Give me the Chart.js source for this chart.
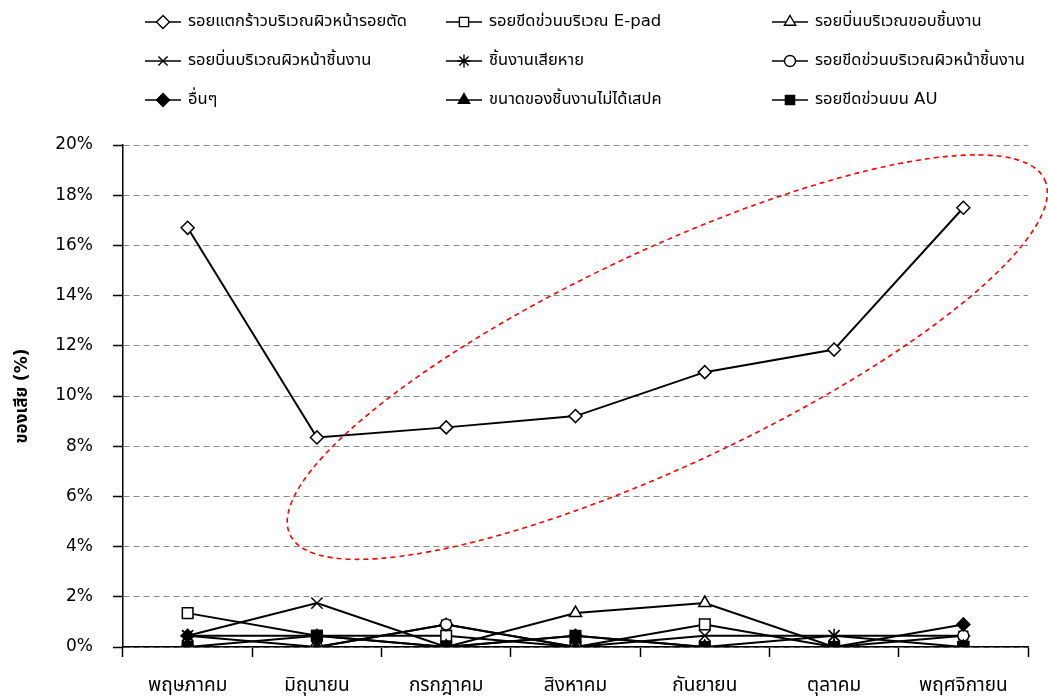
<!DOCTYPE html>
<html>
<head>
<meta charset="utf-8">
<script src="https://cdn.jsdelivr.net/npm/chart.js@4.4.0/dist/chart.umd.min.js"></script>
<style>
  html, body { margin: 0; padding: 0; background: #ffffff; }
  #wrap { width: 1048px; height: 698px; position: relative; }
</style>
</head>
<body>
<div id="wrap"><canvas id="chart"></canvas></div>
<script>
// Months on the x axis
const months = ['พฤษภาคม', 'มิถุนายน', 'กรกฎาคม', 'สิงหาคม', 'กันยายน', 'ตุลาคม', 'พฤศจิกายน'];

// Defect names (legend order, row by row)
const defectNames = [
  'รอยแตกร้าวบริเวณผิวหน้ารอยตัด',
  'รอยขีดข่วนบริเวณ E-pad',
  'รอยบิ่นบริเวณขอบชิ้นงาน',
  'รอยบิ่นบริเวณผิวหน้าชิ้นงาน',
  'ชิ้นงานเสียหาย',
  'รอยขีดข่วนบริเวณผิวหน้าชิ้นงาน',
  'อื่นๆ',
  'ขนาดของชิ้นงานไม่ได้เสปค',
  'รอยขีดข่วนบน AU'
];

// Defect rate per month (%)
const crackCutFace   = [16.7, 8.35, 8.75, 9.2, 10.95, 11.85, 17.5];
const scratchEpad    = [1.35, 0.45, 0.45, 0, 0.9, 0, 0];
const chipEdge       = [0, 0, 0, 1.35, 1.75, 0, 0];
const chipSurface    = [0.45, 1.75, 0, 0, 0.45, 0.45, 0];
const damagedPart    = [0.45, 0, 0.9, 0, 0, 0.45, 0.45];
const scratchSurface = [0, 0, 0.9, 0, 0, 0, 0.45];
const otherDefects   = [0.45, 0.45, 0, 0.45, 0, 0, 0.9];
const outOfSpec      = [0, 0, 0, 0, 0, 0, 0];
const scratchAU      = [0, 0.45, 0, 0.45, 0, 0, 0];

// Y axis range and step (%)
const yMin = 0, yMax = 20, yStep = 2;
const yTitle = 'ของเสีย (%)';

const FONT = '"DejaVu Sans", Tahoma, "Noto Sans Thai", "Noto Sans", sans-serif';

const seriesValues = [crackCutFace, scratchEpad, chipEdge, chipSurface, damagedPart,
                      scratchSurface, otherDefects, outOfSpec, scratchAU];
const markerStyles = [
  { style: 'rectRot',  fill: '#ffffff', r: 6.5 },
  { style: 'rect',     fill: '#ffffff', r: 7.5 },
  { style: 'triangle', fill: '#ffffff', r: 7 },
  { style: 'crossRot', fill: '#000000', r: 8 },
  { style: 'star',     fill: '#000000', r: 7 },
  { style: 'circle',   fill: '#ffffff', r: 5.5 },
  { style: 'rectRot',  fill: '#000000', r: 6.5 },
  { style: 'triangle', fill: '#000000', r: 7 },
  { style: 'rect',     fill: '#000000', r: 7.5 }
];

const datasets = seriesValues.map((vals, i) => ({
  label: defectNames[i],
  data: vals,
  borderColor: '#000000',
  borderWidth: 2,
  pointStyle: markerStyles[i].style,
  pointRadius: markerStyles[i].r,
  pointBackgroundColor: markerStyles[i].fill,
  pointBorderColor: '#000000',
  pointBorderWidth: 1.5,
  tension: 0,
  order: 10 - i   // later series are painted on top
}));

// Three-column legend above the plot
const gridLegend = {
  id: 'gridLegend',
  afterDraw(chart) {
    const ctx = chart.ctx;
    const cols = [145, 446, 772];
    const rows = [22, 61, 100];
    chart.data.datasets.forEach((ds, i) => {
      const x = cols[i % 3];
      const y = rows[Math.floor(i / 3)];
      ctx.save();
      ctx.strokeStyle = '#000';
      ctx.lineWidth = 1.6;
      ctx.beginPath();
      ctx.moveTo(x, y);
      ctx.lineTo(x + 36, y);
      ctx.stroke();
      ctx.fillStyle = ds.pointBackgroundColor;
      ctx.strokeStyle = '#000';
      ctx.lineWidth = 1.4;
      Chart.helpers.drawPoint(ctx, {
        pointStyle: ds.pointStyle,
        radius: Math.min(ds.pointRadius, 6.5),
        borderWidth: 1.4,
        rotation: 0
      }, x + 18, y);
      ctx.fillStyle = '#000';
      ctx.font = '16.5px ' + FONT;
      ctx.textAlign = 'left';
      ctx.textBaseline = 'middle';
      ctx.fillText(ds.label, x + 43, y);
      ctx.restore();
    });
  }
};

// Dashed red ellipse highlighting the rising trend
const trendEllipse = {
  id: 'trendEllipse',
  afterDraw(chart) {
    const xs = chart.scales.x, ys = chart.scales.y;
    const cx = xs.getPixelForValue(3.71);
    const cy = ys.getPixelForValue(11.55);
    const ctx = chart.ctx;
    ctx.save();
    ctx.strokeStyle = '#ff0000';
    ctx.lineWidth = 1.6;
    ctx.setLineDash([5, 4]);
    ctx.beginPath();
    ctx.ellipse(cx, cy, 417, 107, -25.2 * Math.PI / 180, 0, Math.PI * 2);
    ctx.stroke();
    ctx.restore();
  }
};

new Chart(document.getElementById('chart'), {
  type: 'line',
  data: { labels: months, datasets },
  options: {
    responsive: true,
    maintainAspectRatio: false,
    animation: false,
    layout: { padding: { top: 145, left: 12, right: 20, bottom: 0 } },
    plugins: {
      legend: { display: false },
      tooltip: { enabled: false }
    },
    scales: {
      x: {
        offset: true,
        grid: {
          offset: true,
          drawOnChartArea: false,
          drawTicks: true,
          tickLength: 10,
          tickColor: '#000',
          tickWidth: 1.5
        },
        border: { display: true, color: '#000', width: 1.5 },
        ticks: {
          color: '#000',
          font: { family: FONT, size: 19 },
          padding: 18,
          maxRotation: 0,
          autoSkip: false
        },
        afterFit(scale) { scale.height = 51; }
      },
      y: {
        min: yMin,
        max: yMax,
        grid: {
          color: '#8a8a8a',
          lineWidth: 1,
          drawTicks: true,
          tickLength: 10,
          tickColor: '#000',
          tickWidth: 1.5
        },
        border: { display: true, color: '#000', width: 1.5, dash: [6, 4] },
        ticks: {
          stepSize: yStep,
          color: '#000',
          font: { family: FONT, size: 17 },
          padding: 20,
          callback: v => v + '%'
        },
        title: {
          display: true,
          text: yTitle,
          color: '#000',
          font: { family: FONT, size: 17, weight: 'bold' },
          padding: { top: 0, bottom: 18 }
        },
        afterFit(scale) { scale.width = 111; }
      }
    }
  },
  plugins: [gridLegend, trendEllipse]
});
</script>
</body>
</html>
